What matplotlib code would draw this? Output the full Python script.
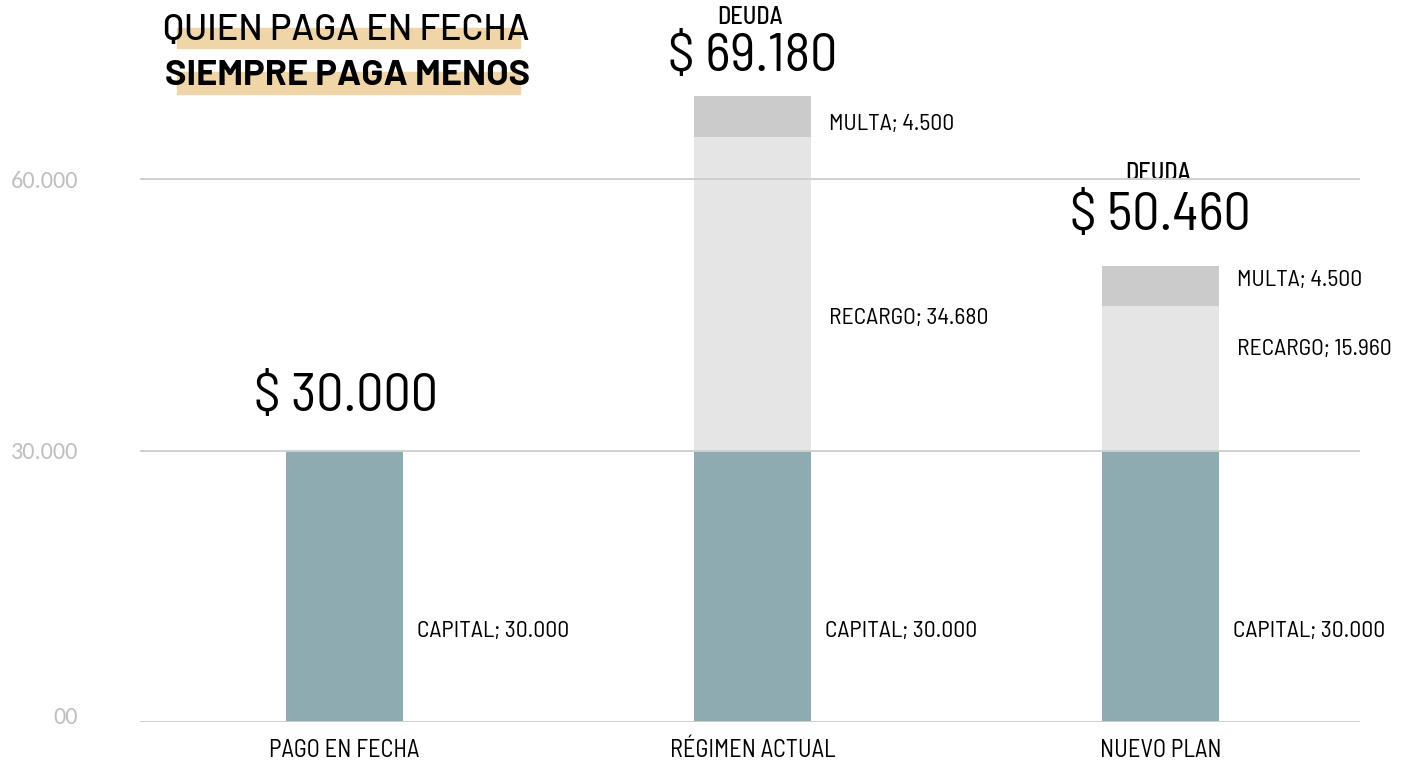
import matplotlib
matplotlib.use("Agg")
import matplotlib.pyplot as plt
from matplotlib.patches import Rectangle
from matplotlib.transforms import ScaledTranslation
from matplotlib import font_manager as fm

# ---- data ----
categories = ["PAGO EN FECHA", "RÉGIMEN ACTUAL", "NUEVO PLAN"]
capital = [30000, 30000, 30000]
recargo = [0, 34680, 15960]
multa = [0, 4500, 4500]
totals = [30000, 69180, 50460]
ytick_values = [0, 30000, 60000]
ytick_labels = ["00", "30.000", "60.000"]

def fmt(v):
    return f"{v:,}".replace(",", ".")

def has_font(name):
    try:
        fm.findfont(fm.FontProperties(family=name), fallback_to_default=False)
        return True
    except Exception:
        return False

W, H, DPI = 1401, 763, 100
FONT = "Barlow Semi Condensed"
TITLE_FONT = "Barlow"
if has_font("Carlito"):
    TICK_FONT, TICK_SIZE = "Carlito", 17.5
else:
    TICK_FONT, TICK_SIZE = "Open Sans", 14

fig = plt.figure(figsize=(W / DPI, H / DPI), dpi=DPI)

# axes geometry in pixels
x0_px, x1_px = 140, 1360
y0_px = 722.3
px_per_unit = 0.00905
ymax = 75000
top_px = y0_px - ymax * px_per_unit
ax = fig.add_axes([x0_px / W, (H - y0_px) / H, (x1_px - x0_px) / W, (y0_px - top_px) / H])

xs = list(range(len(categories)))
bw = 0.287
c_cap, c_rec, c_mul = "#8FABB2", "#E5E5E5", "#CBCBCB"
ax.bar(xs, capital, width=bw, color=c_cap, zorder=1)
bot2 = [c for c in capital]
ax.bar(xs, recargo, width=bw, bottom=bot2, color=c_rec, zorder=1)
bot3 = [c + r for c, r in zip(capital, recargo)]
ax.bar(xs, multa, width=bw, bottom=bot3, color=c_mul, zorder=1)

ax.set_xlim(-0.501, 2.489)
ax.set_ylim(0, ymax)
ax.set_axisbelow(False)
ax.set_yticks(ytick_values)
ax.set_yticklabels(ytick_labels, fontsize=TICK_SIZE, color="#BFBFBF", family=TICK_FONT)
ax.tick_params(axis="y", length=0, pad=44.6)
ax.yaxis.grid(True, color="#D0D0D0", linewidth=1.4)
zl = ax.get_yticklabels()[0]
zl.set_transform(zl.get_transform() + ScaledTranslation(0, 7 / DPI, fig.dpi_scale_trans))
ax.set_xticks(xs)
ax.set_xticklabels(categories, fontsize=17.5, family=FONT, color="black")
ax.tick_params(axis="x", length=0, pad=12)
for s in ax.spines.values():
    s.set_visible(False)

# segment labels (positions in data units)
cap_y = 9980
for i in xs:
    ax.text(i + bw / 2 + 0.035, cap_y, f"CAPITAL; {fmt(capital[i])}", fontsize=17,
            family=FONT, va="center", ha="left")
rec_y = {1: 44670, 2: 41140}
mul_y = {1: 66000, 2: 48870}
for i in [1, 2]:
    ax.text(i + bw / 2 + 0.045, rec_y[i], f"RECARGO; {fmt(recargo[i])}", fontsize=17,
            family=FONT, va="center", ha="left")
    ax.text(i + bw / 2 + 0.045, mul_y[i], f"MULTA; {fmt(multa[i])}", fontsize=17,
            family=FONT, va="center", ha="left")

# totals
tot_y = [35900, 73500, 55900]
tot_x = [0.005, 0.0, 0.0]
for i in xs:
    ax.text(i + tot_x[i], tot_y[i], f"$ {fmt(totals[i])}", fontsize=39, family=FONT,
            va="center", ha="center", zorder=2)
deuda_y = {1: 77930, 2: 60590}
for i in [1, 2]:
    ax.text(i - 0.005, deuda_y[i], "DEUDA", fontsize=17.5, family=FONT, weight=500,
            va="center", ha="center", zorder=2)

# title with highlight bars (figure pixel coords)
def px(x, y):
    return x / W, 1 - y / H

for (xa, xb, ya, yb) in [(177, 520, 28, 48), (177, 520, 72, 94)]:
    fig.patches.append(Rectangle(px(xa, yb), (xb - xa) / W, (yb - ya) / H,
                                 transform=fig.transFigure, color="#F0D5A8", zorder=0))
fig.text(*px(346, 31), "QUIEN PAGA EN FECHA", fontsize=26, family=TITLE_FONT, weight=500,
         ha="center", va="center", zorder=3)
fig.text(*px(348, 76), "SIEMPRE PAGA MENOS", fontsize=26, family=TITLE_FONT, weight="bold",
         ha="center", va="center", zorder=3)

fig.savefig("out.png", dpi=DPI)
